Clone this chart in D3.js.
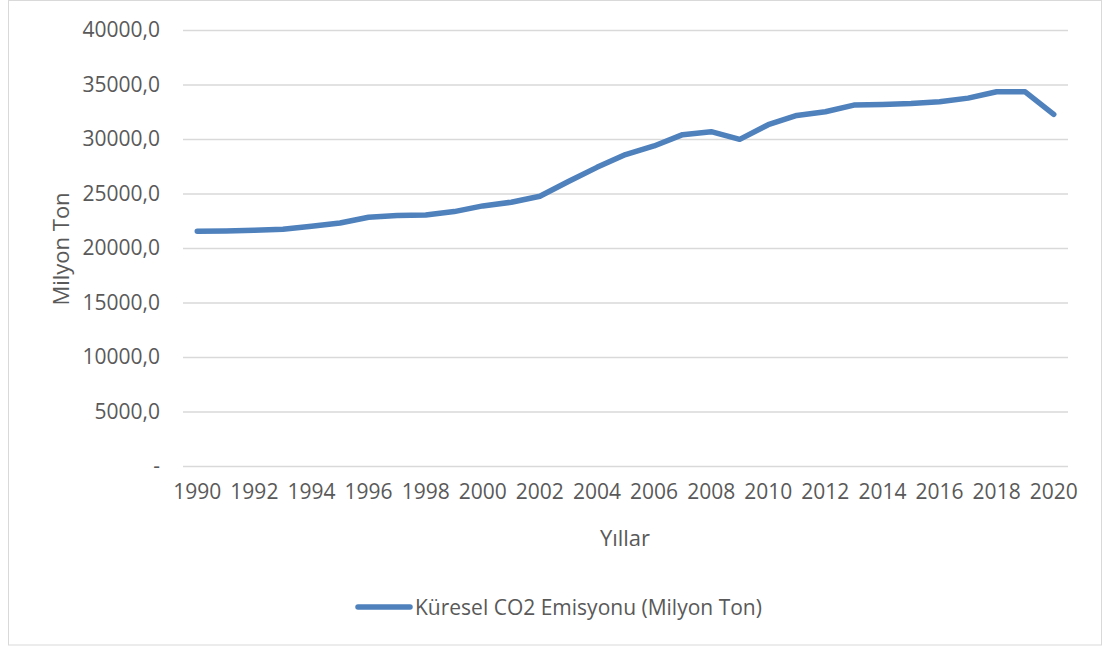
<!DOCTYPE html>
<html>
<head>
<meta charset="utf-8">
<script src="https://cdn.jsdelivr.net/npm/d3@7"></script>
<style>
  html, body { margin: 0; padding: 0; background: #fff; }
  svg { display: block; }
  text { font-family: "Open Sans", "Liberation Sans", sans-serif; fill: #595959; }
</style>
</head>
<body>
<svg id="chart" width="1105" height="646"></svg>
<script>
const years = d3.range(1990, 2021);
const emissions = [
  21540, 21570, 21630, 21720, 21990, 22300, 22820, 22980, 23030, 23340,
  23860, 24200, 24750, 26100, 27400, 28570, 29360, 30400, 30670, 29970,
  31310, 32160, 32500, 33110, 33170, 33260, 33410, 33750, 34330, 34330, 32260
];
const yTicks = [0, 5000, 10000, 15000, 20000, 25000, 30000, 35000, 40000];
const xTickYears = years.filter(y => (y - 1990) % 2 === 0);
const seriesName = "Küresel CO2 Emisyonu (Milyon Ton)";
const xTitle = "Yıllar";
const yTitle = "Milyon Ton";

const svg = d3.select("#chart");

// outer frame
svg.append("rect").attr("x", 8.5).attr("y", 0.5).attr("width", 1093).attr("height", 644.5)
  .attr("fill", "#fff").attr("stroke", "#d9d9d9").attr("stroke-width", 1);

const plot = { left: 183, right: 1068, top: 30, bottom: 466 };

const x = d3.scaleBand().domain(years).range([plot.left, plot.right]).padding(0);
const y = d3.scaleLinear().domain([0, 40000]).range([plot.bottom, plot.top]);
const cx = d => x(d) + x.bandwidth() / 2;

const fmt = v => v === 0 ? "-" : d3.format(".1f")(v).replace(".", ",");

// y gridlines + labels
const yAxis = d3.axisLeft(y).tickValues(yTicks).tickFormat(fmt)
  .tickSize(-(plot.right - plot.left)).tickPadding(23);
const gy = svg.append("g").attr("transform", `translate(${plot.left},0)`).call(yAxis);
gy.select(".domain").remove();
gy.selectAll(".tick line").attr("stroke", "#d9d9d9").attr("stroke-width", 1.3);
gy.selectAll(".tick text").attr("font-size", 21).attr("fill", "#595959")
  .style("font-family", '"Open Sans", sans-serif');

// x labels
const xAxis = d3.axisBottom(x).tickValues(xTickYears).tickSize(0).tickPadding(18);
const gx = svg.append("g").attr("transform", `translate(0,${plot.bottom})`).call(xAxis);
gx.select(".domain").remove();
gx.selectAll(".tick text").attr("font-size", 21).attr("fill", "#595959")
  .style("font-family", '"Open Sans", sans-serif');

// line
const line = d3.line().x((d, i) => cx(years[i])).y(d => y(d));
svg.append("path").datum(emissions).attr("d", line)
  .attr("fill", "none").attr("stroke", "#4f81bd").attr("stroke-width", 5.5)
  .attr("stroke-linejoin", "round").attr("stroke-linecap", "round");

// axis titles
svg.append("text").attr("x", 625).attr("y", 537).attr("text-anchor", "middle")
  .attr("dominant-baseline", "central").attr("font-size", 22).text(xTitle);
svg.append("text").attr("transform", "translate(60,249) rotate(-90)")
  .attr("text-anchor", "middle").attr("dominant-baseline", "central")
  .attr("font-size", 22).text(yTitle);

// legend
svg.append("line").attr("x1", 358).attr("x2", 410).attr("y1", 607).attr("y2", 607)
  .attr("stroke", "#4f81bd").attr("stroke-width", 5.5).attr("stroke-linecap", "round");
svg.append("text").attr("x", 415).attr("y", 607).attr("dominant-baseline", "central")
  .attr("font-size", 21).text(seriesName);
</script>
</body>
</html>
